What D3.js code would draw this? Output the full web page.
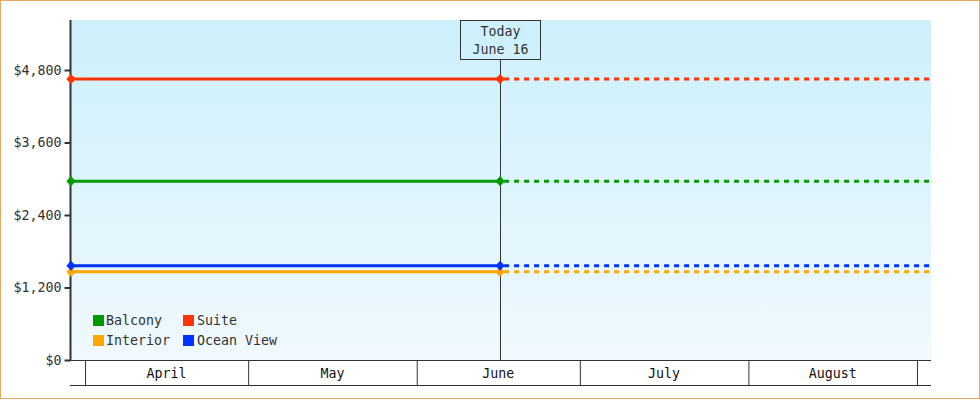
<!DOCTYPE html>
<html>
<head>
<meta charset="utf-8">
<script src="https://cdn.jsdelivr.net/npm/d3@7"></script>
<style>
  body { margin: 0; background: #fff; }
  svg { display: block; font-family: "DejaVu Sans Mono", monospace; }
</style>
</head>
<body>
<svg id="chart"></svg>
<script>
// data
const seriesNames = ["Balcony", "Suite", "Interior", "Ocean View"];
const seriesColors = ["#009900", "#ff3300", "#ffa500", "#0033ff"];
const startValues = [2960, 4650, 1460, 1560];
const todayValues = [2960, 4650, 1460, 1560];
const monthLabels = ["April", "May", "June", "July", "August"];
const yTicks = [0, 1200, 2400, 3600, 4800];
const todayLabel = ["Today", "June 16"];

const w = 980;
const h = 400;
const pLeft = 71, pRight = 931, pTop = 20, pBottom = 360;

const startDate = new Date(Date.UTC(2024, 2, 29, 10));
const endDate = new Date(Date.UTC(2024, 8, 3, 14));
const todayDate = new Date(Date.UTC(2024, 5, 16, 8));
const monthStarts = d3.utcMonth.range(new Date(Date.UTC(2024, 3, 1)), new Date(Date.UTC(2024, 8, 2)));

const svg = d3.select("#chart").attr("width", w).attr("height", h);

svg.append("rect")
  .attr("x", 0.5).attr("y", 0.5)
  .attr("width", w - 1).attr("height", h - 2)
  .attr("fill", "#fff")
  .attr("stroke", "#e8a860");

const defs = svg.append("defs");
const grad = defs.append("linearGradient")
  .attr("id", "bg").attr("x1", 0).attr("y1", 0).attr("x2", 0).attr("y2", 1);
grad.append("stop").attr("offset", "0%").attr("stop-color", "#ccf0fc");
grad.append("stop").attr("offset", "100%").attr("stop-color", "#f0f9fe");

const x = d3.scaleUtc().domain([startDate, endDate]).range([pLeft, pRight]);
const y = d3.scaleLinear().domain([0, 5628]).range([pBottom, pTop]);

svg.append("rect")
  .attr("x", pLeft).attr("y", pTop)
  .attr("width", pRight - pLeft).attr("height", pBottom - pTop)
  .attr("fill", "url(#bg)");

// x axis: month cells
const xAxis = svg.append("g")
  .attr("transform", `translate(0, ${pBottom})`)
  .call(d3.axisBottom(x).tickValues(monthStarts).tickSize(25).tickFormat(""));
xAxis.select(".domain").remove();
xAxis.selectAll(".tick line").attr("stroke", "#333").attr("stroke-width", 1);

svg.append("line")
  .attr("x1", pLeft - 1).attr("x2", pRight)
  .attr("y1", pBottom + 25.5).attr("y2", pBottom + 25.5)
  .attr("stroke", "#333");
svg.append("line")
  .attr("x1", pLeft - 1).attr("x2", pRight)
  .attr("y1", pBottom + 0.5).attr("y2", pBottom + 0.5)
  .attr("stroke", "#333");

svg.selectAll(".month")
  .data(monthLabels)
  .enter()
  .append("text")
  .attr("class", "month")
  .attr("x", (d, i) => (x(monthStarts[i]) + x(monthStarts[i + 1])) / 2)
  .attr("y", pBottom + 18)
  .attr("text-anchor", "middle")
  .attr("font-size", 13.3)
  .attr("fill", "#111")
  .text((d) => d);

// y axis
const yAxis = svg.append("g")
  .attr("transform", `translate(${pLeft - 0.5}, 0)`)
  .call(d3.axisLeft(y).tickValues(yTicks).tickSize(6).tickPadding(3).tickFormat((d) => "$" + d3.format(",")(d)));
yAxis.select(".domain")
  .attr("d", `M0,${pTop}V${pBottom + 1}`)
  .attr("stroke", "#333").attr("stroke-width", 2);
yAxis.selectAll(".tick line").attr("stroke", "#333").attr("stroke-width", 2);
yAxis.selectAll(".tick text")
  .attr("font-family", "DejaVu Sans Mono, monospace")
  .attr("font-size", 13.3)
  .attr("fill", "#333");

// today marker
const tx = Math.round(x(todayDate)) + 0.5;
svg.append("line")
  .attr("x1", tx).attr("x2", tx)
  .attr("y1", pTop + 40).attr("y2", pBottom)
  .attr("stroke", "#333");
svg.append("rect")
  .attr("x", tx - 40).attr("y", pTop + 0.5)
  .attr("width", 80).attr("height", 39)
  .attr("fill", "none")
  .attr("stroke", "#333");
svg.selectAll(".today")
  .data(todayLabel)
  .enter()
  .append("text")
  .attr("class", "today")
  .attr("x", tx)
  .attr("y", (d, i) => pTop + 16 + i * 18)
  .attr("text-anchor", "middle")
  .attr("font-size", 13.3)
  .attr("fill", "#333")
  .text((d) => d);

// series lines
const line = d3.line().x((d) => x(d.date)).y((d) => y(d.value));

seriesNames.forEach((name, i) => {
  svg.append("path")
    .datum([{ date: startDate, value: startValues[i] }, { date: todayDate, value: todayValues[i] }])
    .attr("d", line)
    .attr("fill", "none")
    .attr("stroke", seriesColors[i])
    .attr("stroke-width", 3);
  svg.append("path")
    .datum([{ date: todayDate, value: todayValues[i] }, { date: endDate, value: todayValues[i] }])
    .attr("d", line)
    .attr("fill", "none")
    .attr("stroke", seriesColors[i])
    .attr("stroke-width", 3)
    .attr("stroke-dasharray", "5,5")
    .attr("stroke-dashoffset", -4);
});

// markers
const diamond = d3.symbolDiamond2 || d3.symbolDiamond;
seriesNames.forEach((name, i) => {
  svg.selectAll(".m" + i)
    .data([{ date: startDate, value: startValues[i] }, { date: todayDate, value: todayValues[i] }])
    .enter()
    .append("path")
    .attr("class", "m" + i)
    .attr("d", d3.symbol(diamond, 55))
    .attr("transform", (d) => `translate(${x(d.date)}, ${y(d.value)}) scale(1, 1.1)`)
    .attr("fill", seriesColors[i]);
});

// legend
const legend = svg.append("g").attr("transform", "translate(93, 315)");
const items = legend.selectAll(".legend-item")
  .data(seriesNames)
  .enter()
  .append("g")
  .attr("class", "legend-item")
  .attr("transform", (d, i) => `translate(${(i % 2) * 90}, ${Math.floor(i / 2) * 20})`);
items.append("rect")
  .attr("width", 11).attr("height", 11)
  .attr("fill", (d, i) => seriesColors[i]);
items.append("text")
  .attr("x", (d, i) => (i % 2 ? 14 : 13)).attr("y", 10)
  .attr("font-size", 13.3)
  .attr("fill", "#333")
  .text((d) => d);
</script>
</body>
</html>
